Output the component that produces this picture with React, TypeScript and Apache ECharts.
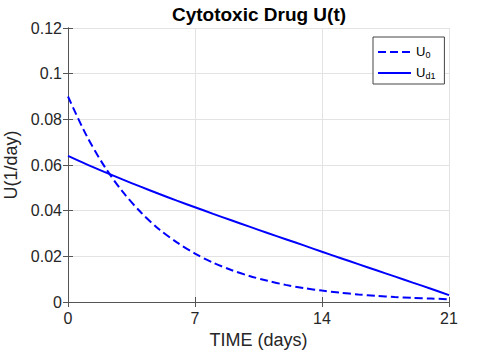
import React, { useEffect, useRef } from "react";
import * as echarts from "echarts";

const days = [0, 1, 2, 3, 4, 5, 6, 7, 8, 9, 10, 11, 12, 13, 14, 15, 16, 17, 18, 19, 20, 21];
const u0Values = [
  0.09, 0.0732, 0.0595, 0.0484, 0.0394, 0.032, 0.0261, 0.0212, 0.0172, 0.014, 0.0114,
  0.0093, 0.0075, 0.0061, 0.005, 0.0041, 0.0033, 0.0027, 0.0022, 0.0018, 0.0015, 0.0012,
];
const ud1Values = [
  0.064, 0.0604, 0.057, 0.0537, 0.0505, 0.0474, 0.0444, 0.0415, 0.0386, 0.0358, 0.033,
  0.0302, 0.0275, 0.0248, 0.022, 0.0193, 0.0166, 0.0139, 0.0112, 0.0085, 0.0058, 0.003,
];
const xTicks = [0, 7, 14, 21];
const yTicks = [0, 0.02, 0.04, 0.06, 0.08, 0.1, 0.12];
const seriesNames = ["U0", "Ud1"];
const legendLabels: Record<string, string> = { U0: "{u|U}{s|0}", Ud1: "{u|U}{s|d1}" };
const titleText = "Cytotoxic Drug U(t)";
const xName = "TIME (days)";
const yName = "U(1/day)";

const FONT = "'Liberation Sans', Arial, Helvetica, sans-serif";
const BLUE = "#0000ff";
const AXIS = "#555555";
const TEXT = "#262626";

export default function App() {
  const ref = useRef<HTMLDivElement>(null);
  useEffect(() => {
    if (!ref.current) return;
    const chart = echarts.init(ref.current, undefined, { renderer: "svg" });
    const xMin = xTicks[0];
    const xMax = xTicks[xTicks.length - 1];
    const xInt = xTicks[1] - xTicks[0];
    const yMin = yTicks[0];
    const yMax = yTicks[yTicks.length - 1];
    const yInt = yTicks[1] - yTicks[0];
    const axisCommon = {
      axisLine: { show: true, lineStyle: { color: AXIS, width: 1 } },
      axisTick: { show: true, inside: true, length: 5, lineStyle: { color: AXIS } },
    };
    chart.setOption({
      animation: false,
      backgroundColor: "#ffffff",
      textStyle: { fontFamily: FONT },
      title: {
        text: titleText,
        left: 259,
        top: 5,
        padding: 0,
        textAlign: "center",
        textStyle: { fontFamily: FONT, fontSize: 19, fontWeight: "bold", color: "#000" },
      },
      grid: {
        left: 68,
        right: 47,
        top: 28,
        bottom: 52,
        containLabel: false,
        outerBoundsMode: "none",
      },
      legend: {
        data: seriesNames.map((n) => ({ name: n, itemStyle: { opacity: 0, color: "transparent", borderWidth: 0 } })),
        orient: "vertical",
        left: 373,
        top: 37,
        padding: [4, 9, 4, 4],
        itemGap: 3,
        itemWidth: 33,
        itemHeight: 14,
        borderColor: "#444",
        borderWidth: 1,
        borderRadius: 0,
        backgroundColor: "#fff",
        itemStyle: { opacity: 0, borderWidth: 0 },
        formatter: (name: string) => legendLabels[name],
        textStyle: {
          fontFamily: FONT,
          color: "#000",
          rich: {
            u: { fontFamily: FONT, fontSize: 13, lineHeight: 14, verticalAlign: "top", color: "#000" },
            s: {
              fontFamily: FONT,
              fontSize: 9,
              lineHeight: 9,
              padding: [9, 0, 0, 0],
              verticalAlign: "bottom",
              color: "#000",
            },
          },
        },
      },
      xAxis: [
        {
          type: "value",
          min: xMin,
          max: xMax,
          interval: xInt,
          name: xName,
          nameLocation: "middle",
          nameGap: 22,
          nameTextStyle: { fontFamily: FONT, fontSize: 18, color: TEXT },
          axisLabel: { fontFamily: FONT, fontSize: 16, color: TEXT, margin: 8 },
          splitLine: { show: true, lineStyle: { color: "#e3e3e3", width: 1 } },
          ...axisCommon,
        },
        {
          type: "value",
          position: "top",
          min: xMin,
          max: xMax,
          interval: xInt,
          axisLabel: { show: false },
          splitLine: { show: false },
          ...axisCommon,
        },
      ],
      yAxis: [
        {
          type: "value",
          min: yMin,
          max: yMax,
          interval: yInt,
          name: yName,
          nameLocation: "middle",
          nameGap: 47,
          nameTextStyle: { fontFamily: FONT, fontSize: 18, color: TEXT },
          axisLabel: { fontFamily: FONT, fontSize: 16, color: TEXT, margin: 6 },
          splitLine: { show: true, lineStyle: { color: "#e3e3e3", width: 1 } },
          ...axisCommon,
        },
        {
          type: "value",
          position: "right",
          min: yMin,
          max: yMax,
          interval: yInt,
          axisLabel: { show: false },
          splitLine: { show: false },
          ...axisCommon,
        },
      ],
      series: [
        {
          name: seriesNames[0],
          type: "line",
          xAxisIndex: 0,
          yAxisIndex: 0,
          data: days.map((d, i) => [d, u0Values[i]]),
          showSymbol: false,
          symbol: "none",
          smooth: 0.3,
          lineStyle: { color: BLUE, width: 2, type: [8, 4] },
          itemStyle: { color: BLUE },
        },
        {
          name: seriesNames[1],
          type: "line",
          xAxisIndex: 0,
          yAxisIndex: 0,
          data: days.map((d, i) => [d, ud1Values[i]]),
          showSymbol: false,
          symbol: "none",
          smooth: 0.3,
          lineStyle: { color: BLUE, width: 2, type: "solid" },
          itemStyle: { color: BLUE },
        },
      ],
    });
    return () => chart.dispose();
  }, []);
  return (
    <div
      ref={ref}
      style={{ position: "fixed", left: 0, top: 0, width: 496, height: 354, background: "#fff" }}
    />
  );
}
